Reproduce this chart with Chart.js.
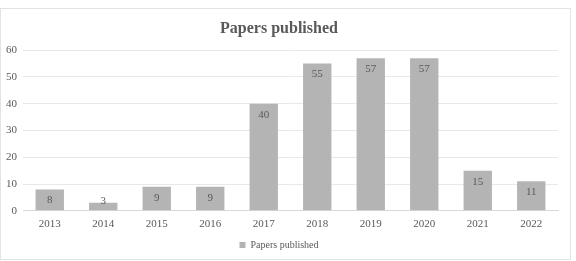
<!DOCTYPE html>
<html><head><meta charset="utf-8">
<script src="https://cdn.jsdelivr.net/npm/chart.js@4"></script>
<style>html,body{margin:0;padding:0;background:#fff}#w{width:576px;height:261px}</style>
</head><body><div id="w"><canvas id="c"></canvas></div>
<script>
const categories = ["2013","2014","2015","2016","2017","2018","2019","2020","2021","2022"];
const papers = [8,3,9,9,40,55,57,57,15,11];
const seriesName = "Papers published";
const titleText = "Papers published";

const FONT = "'Liberation Serif','Times New Roman',serif";
const TXT = "#595959";

const frame = {
  id:'frame',
  beforeDraw(ch){
    const c=ch.ctx; c.save(); c.strokeStyle='#e3e3e3'; c.lineWidth=1;
    c.strokeRect(0.5,8.5,570,251); c.restore();
  }
};
const valueLabels = {
  id:'valueLabels',
  afterDatasetsDraw(ch){
    const c=ch.ctx; const meta=ch.getDatasetMeta(0); const ds=ch.data.datasets[0];
    c.save(); c.font="11px "+FONT; c.fillStyle=TXT; c.textAlign='center'; c.textBaseline='middle';
    meta.data.forEach((el,i)=>{
      const y=Math.min(el.y+11, el.base-9);
      c.fillText(String(ds.data[i]), el.x, y);
    });
    c.restore();
  }
};

new Chart(document.getElementById('c'),{
  type:'bar',
  data:{labels:categories,datasets:[{label:seriesName,data:papers,backgroundColor:'#b4b4b4',borderWidth:0,categoryPercentage:1,barPercentage:0.53}]},
  plugins:[frame,valueLabels],
  options:{
    responsive:true,maintainAspectRatio:false,animation:false,
    layout:{padding:{top:17,left:0,right:18,bottom:1}},
    plugins:{
      title:{display:true,text:titleText,color:TXT,font:{family:FONT,size:16,weight:'bold'},padding:{top:2,bottom:12}},
      legend:{position:'bottom',labels:{color:TXT,font:{family:FONT,size:10},boxWidth:6,boxHeight:6,padding:2}},
      tooltip:{enabled:false}
    },
    scales:{
      x:{grid:{display:false,drawTicks:false},border:{color:'#d9d9d9'},ticks:{color:TXT,font:{family:FONT,size:11},padding:7}},
      y:{min:0,max:60,grid:{color:'#e8e8e8',drawTicks:false},border:{display:false},ticks:{stepSize:10,color:TXT,font:{family:FONT,size:11},padding:6}}
    }
  }
});
</script></body></html>
